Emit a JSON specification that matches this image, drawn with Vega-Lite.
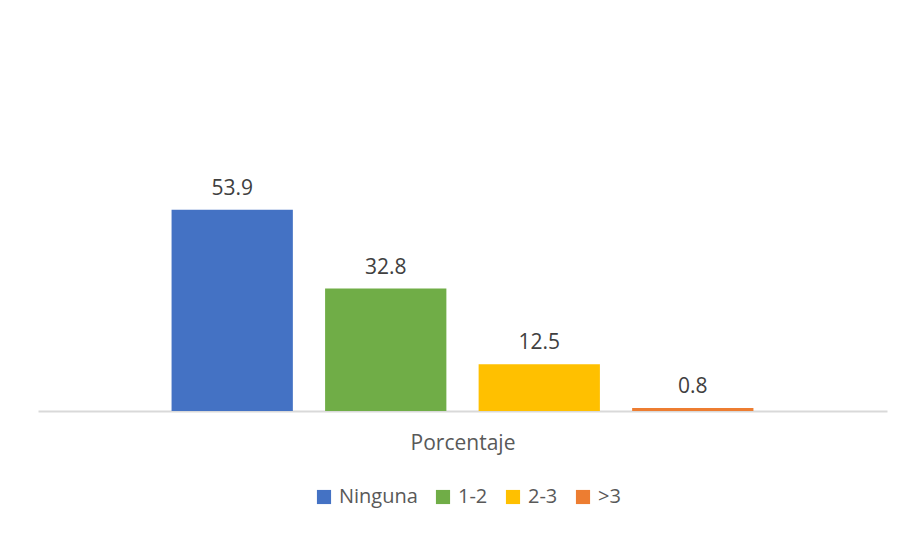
{
  "$schema": "https://vega.github.io/schema/vega-lite/v6.json",
  "width": 849,
  "height": 403,
  "autosize": {"type": "none"},
  "padding": {"left": 38, "top": 8, "right": 18, "bottom": 122},
  "background": "white",
  "config": {
    "font": "Open Sans",
    "view": {"stroke": null}
  },
  "data": {
    "values": [
      {"cat": "Ninguna", "valor": 53.9},
      {"cat": "1-2", "valor": 32.8},
      {"cat": "2-3", "valor": 12.5},
      {"cat": ">3", "valor": 0.8}
    ]
  },
  "encoding": {
    "x": {
      "field": "cat",
      "type": "nominal",
      "sort": ["Ninguna", "1-2", "2-3", ">3"],
      "scale": {"paddingInner": 0.21, "paddingOuter": 0.87},
      "axis": {
        "title": "Porcentaje",
        "labels": false,
        "ticks": false,
        "domainColor": "#D9D9D9",
        "domainWidth": 2,
        "titleFont": "Open Sans",
        "titleFontSize": 21,
        "titleFontWeight": "normal",
        "titleColor": "#595959",
        "titlePadding": 21
      }
    },
    "y": {
      "field": "valor",
      "type": "quantitative",
      "scale": {"domain": [0, 108], "nice": false},
      "axis": null
    }
  },
  "layer": [
    {
      "mark": {"type": "bar"},
      "encoding": {
        "color": {
          "field": "cat",
          "type": "nominal",
          "sort": ["Ninguna", "1-2", "2-3", ">3"],
          "scale": {
            "domain": ["Ninguna", "1-2", "2-3", ">3"],
            "range": ["#4472C4", "#70AD47", "#FFC000", "#ED7D31"]
          },
          "legend": {
            "title": null,
            "orient": "none",
            "direction": "horizontal",
            "legendX": 276,
            "legendY": 479,
            "symbolType": "square",
            "symbolSize": 200,
            "symbolStrokeWidth": 0,
            "symbolOffset": 0,
            "labelFont": "Open Sans",
            "labelFontSize": 20,
            "labelColor": "#595959",
            "labelOffset": 5,
            "columnPadding": 15
          }
        }
      }
    },
    {
      "mark": {
        "type": "text",
        "baseline": "alphabetic",
        "dy": -15,
        "fontSize": 21,
        "font": "Open Sans",
        "color": "#404040"
      },
      "encoding": {
        "text": {"field": "valor", "type": "quantitative", "format": ".1f"}
      }
    }
  ]
}
